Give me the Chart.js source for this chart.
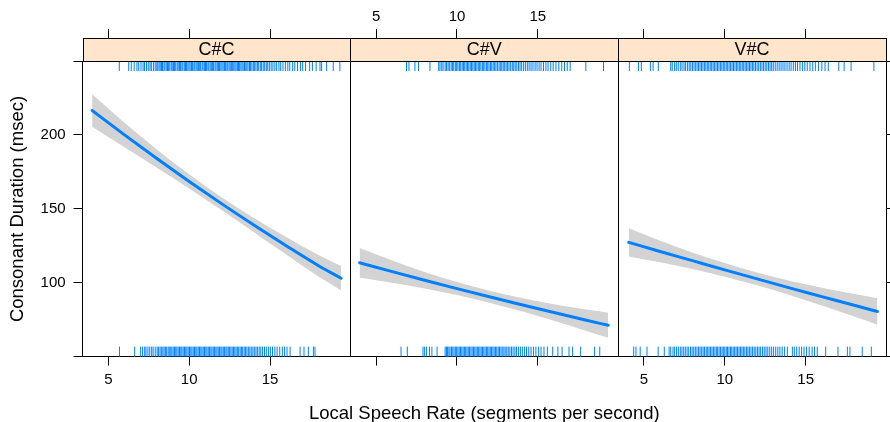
<!DOCTYPE html>
<html>
<head>
<meta charset="utf-8">
<script src="https://cdn.jsdelivr.net/npm/chart.js@4.4.0/dist/chart.umd.min.js"></script>
<style>
  html, body { margin: 0; padding: 0; background: #fff; }
  #wrap { position: relative; width: 890px; height: 422px; overflow: hidden;
          font-family: "Liberation Sans", Arial, Helvetica, sans-serif; color: #000; }
  #wrap canvas { position: absolute; left: 0; top: 0; }
  .strip { position: absolute; text-align: center; font-size: 18px; z-index: 5; white-space: nowrap; }
  #xtitle { position: absolute; text-align: center; font-size: 18.5px; line-height: 19px; white-space: nowrap; z-index: 5; }
  #ytitle { position: absolute; text-align: center; font-size: 18.5px; line-height: 20px; white-space: nowrap;
            width: 300px; height: 20px; transform: rotate(-90deg); z-index: 5; }
</style>
</head>
<body>
<div id="wrap">
  <canvas id="c0" width="890" height="422"></canvas>
  <canvas id="c1" width="890" height="422"></canvas>
  <canvas id="c2" width="890" height="422"></canvas>
  <div class="strip" id="s0"></div>
  <div class="strip" id="s1"></div>
  <div class="strip" id="s2"></div>
  <div id="ytitle"></div>
  <div id="xtitle"></div>
</div>
<script>
// ---------------- data ----------------
const PANELS = ['C#C', 'C#V', 'V#C'];
const X_TITLE = 'Local Speech Rate (segments per second)';
const Y_TITLE = 'Consonant Duration (msec)';
const X_TICKS = [5, 10, 15];
const Y_TICKS = [50, 100, 150, 200, 250];
const Y_TICK_LABELS = ['', '100', '150', '200', ''];

// C#C
const CC_X   = [4.0, 6, 8, 10, 12, 14, 16, 18, 19.4];
const CC_FIT = [216.5, 200, 184, 168.5, 153.5, 139, 125, 111.5, 103];
const CC_LO  = [205.5, 191.7, 177.8, 163.7, 149.2, 134.2, 119.1, 104.2, 94.7];
const CC_HI  = [227.5, 208.3, 190.2, 173.3, 157.8, 143.8, 130.9, 118.8, 111.3];
// C#V
const CV_X   = [3.98, 6, 8, 10, 12, 14, 16, 18, 19.35];
const CV_FIT = [113.5, 107.5, 101.7, 96, 90.5, 85.1, 79.8, 74.6, 71.2];
const CV_LO  = [103.5, 99.9, 96.1, 91.6, 86.5, 80.6, 74.2, 67.4, 62.7];
const CV_HI  = [123.5, 115.1, 107.3, 100.4, 94.5, 89.6, 85.4, 81.8, 79.7];
// V#C
const VC_X   = [4.06, 6, 8, 10, 12, 14, 16, 18, 19.44];
const VC_FIT = [127.3, 121.1, 114.9, 108.7, 102.6, 96.5, 90.6, 84.7, 80.5];
const VC_LO  = [117.8, 113.8, 109.3, 104.1, 98.3, 91.7, 84.6, 77.1, 71.5];
const VC_HI  = [136.8, 128.4, 120.5, 113.3, 106.9, 101.3, 96.6, 92.3, 89.5];

// rugs (speech-rate observations)
const CC_RUG_TOP = [5.68, 6.26, 6.42, 6.6, 6.77, 6.88, 7.02, 7.15, 7.24, 7.36, 7.47, 7.58, 7.66, 7.79, 7.9, 8.0, 8.06, 8.14, 8.21, 8.29, 8.35, 8.44, 8.5, 8.58, 8.66, 8.73, 8.8, 8.89, 8.95, 9.03, 9.1, 9.17, 9.26, 9.32, 9.4, 9.47, 9.55, 9.61, 9.7, 9.77, 9.84, 9.92, 9.99, 10.06, 10.14, 10.2, 10.29, 10.35, 10.43, 10.5, 10.57, 10.65, 10.71, 10.8, 10.86, 10.94, 11.01, 11.08, 11.16, 11.22, 11.3, 11.37, 11.45, 11.51, 11.6, 11.66, 11.74, 11.81, 11.88, 11.96, 12.03, 12.1, 12.18, 12.24, 12.33, 12.39, 12.47, 12.54, 12.61, 12.69, 12.76, 12.83, 12.9, 12.98, 13.05, 13.12, 13.2, 13.27, 13.34, 13.42, 13.5, 13.57, 13.64, 13.73, 13.8, 13.88, 13.97, 14.05, 14.13, 14.22, 14.3, 14.4, 14.48, 14.58, 14.67, 14.77, 14.86, 14.96, 15.07, 15.18, 15.3, 15.41, 15.55, 15.66, 15.8, 15.95, 16.1, 16.22, 16.4, 16.53, 16.7, 16.88, 17.02, 17.2, 17.45, 17.62, 17.85, 18.09, 18.19, 18.5, 18.91, 19.32];
const CC_RUG_BOT = [5.69, 6.63, 7.0, 7.12, 7.25, 7.33, 7.45, 7.56, 7.68, 7.77, 7.9, 8.02, 8.1, 8.2, 8.28, 8.37, 8.45, 8.53, 8.61, 8.7, 8.77, 8.86, 8.93, 9.01, 9.09, 9.17, 9.24, 9.32, 9.4, 9.48, 9.55, 9.63, 9.71, 9.79, 9.86, 9.94, 10.02, 10.1, 10.17, 10.25, 10.33, 10.41, 10.48, 10.56, 10.64, 10.72, 10.79, 10.87, 10.95, 11.03, 11.1, 11.18, 11.26, 11.34, 11.41, 11.49, 11.57, 11.65, 11.72, 11.8, 11.88, 11.96, 12.03, 12.11, 12.19, 12.27, 12.34, 12.42, 12.5, 12.58, 12.66, 12.74, 12.82, 12.9, 12.98, 13.06, 13.15, 13.23, 13.31, 13.4, 13.48, 13.57, 13.66, 13.75, 13.84, 13.94, 14.03, 14.13, 14.22, 14.33, 14.43, 14.54, 14.66, 14.77, 14.9, 15.02, 15.15, 15.3, 15.44, 15.6, 15.76, 15.9, 16.05, 16.24, 16.86, 17.1, 17.37, 17.68, 17.78];
const CV_RUG_TOP = [6.88, 7.03, 7.4, 7.62, 8.33, 8.87, 8.95, 9.06, 9.14, 9.27, 9.35, 9.45, 9.53, 9.64, 9.72, 9.8, 9.9, 9.98, 10.06, 10.15, 10.23, 10.32, 10.4, 10.48, 10.57, 10.65, 10.73, 10.82, 10.9, 10.98, 11.07, 11.15, 11.23, 11.32, 11.4, 11.48, 11.57, 11.65, 11.73, 11.82, 11.9, 11.98, 12.07, 12.15, 12.24, 12.33, 12.41, 12.5, 12.6, 12.68, 12.77, 12.86, 12.95, 13.04, 13.13, 13.22, 13.32, 13.42, 13.51, 13.6, 13.7, 13.8, 13.9, 14.0, 14.12, 14.23, 14.35, 14.46, 14.58, 14.7, 14.83, 14.95, 15.08, 15.2, 15.35, 15.5, 15.63, 15.8, 15.95, 16.12, 16.3, 16.48, 16.65, 16.82, 17.0, 17.97, 19.06];
const CV_RUG_BOT = [6.54, 6.93, 7.9, 8.0, 8.12, 8.3, 8.45, 8.77, 9.27, 9.35, 9.42, 9.5, 9.57, 9.66, 9.74, 9.82, 9.9, 9.98, 10.06, 10.14, 10.22, 10.3, 10.38, 10.46, 10.54, 10.62, 10.7, 10.78, 10.86, 10.94, 11.02, 11.1, 11.18, 11.26, 11.34, 11.42, 11.5, 11.58, 11.66, 11.74, 11.82, 11.9, 11.98, 12.06, 12.14, 12.22, 12.3, 12.38, 12.46, 12.55, 12.63, 12.72, 12.8, 12.9, 12.98, 13.08, 13.17, 13.27, 13.37, 13.47, 13.58, 13.68, 13.8, 13.92, 14.04, 14.17, 14.3, 14.44, 14.58, 14.73, 14.88, 15.05, 15.2, 15.38, 15.59, 15.92, 16.24, 16.5, 16.93, 17.15, 17.65, 18.51, 18.83];
const VC_RUG_TOP = [4.1, 4.66, 4.84, 5.4, 5.57, 5.89, 6.66, 6.75, 6.9, 7.0, 7.12, 7.25, 7.36, 7.48, 7.58, 7.7, 7.8, 7.9, 8.0, 8.1, 8.2, 8.29, 8.38, 8.47, 8.56, 8.65, 8.74, 8.83, 8.92, 9.01, 9.1, 9.19, 9.28, 9.37, 9.46, 9.55, 9.64, 9.73, 9.82, 9.91, 10.0, 10.09, 10.18, 10.27, 10.36, 10.45, 10.54, 10.63, 10.72, 10.81, 10.9, 10.99, 11.08, 11.17, 11.26, 11.35, 11.44, 11.53, 11.62, 11.71, 11.8, 11.9, 12.0, 12.1, 12.2, 12.3, 12.4, 12.5, 12.6, 12.7, 12.8, 12.9, 13.0, 13.12, 13.24, 13.36, 13.48, 13.6, 13.72, 13.85, 13.98, 14.1, 14.24, 14.37, 14.5, 14.65, 14.8, 14.95, 15.1, 15.27, 15.44, 15.6, 15.8, 16.0, 16.2, 16.4, 17.05, 17.38, 17.81, 19.22];
const VC_RUG_BOT = [4.37, 4.51, 4.77, 5.19, 5.88, 6.26, 6.56, 6.66, 6.8, 6.9, 7.02, 7.13, 7.25, 7.35, 7.46, 7.56, 7.67, 7.77, 7.88, 7.98, 8.08, 8.18, 8.28, 8.38, 8.47, 8.57, 8.66, 8.75, 8.85, 8.94, 9.03, 9.12, 9.21, 9.3, 9.39, 9.48, 9.56, 9.65, 9.74, 9.83, 9.91, 10.0, 10.09, 10.17, 10.26, 10.35, 10.43, 10.52, 10.61, 10.7, 10.79, 10.88, 10.97, 11.06, 11.15, 11.24, 11.34, 11.43, 11.52, 11.62, 11.72, 11.82, 11.92, 12.02, 12.12, 12.22, 12.33, 12.44, 12.55, 12.66, 12.78, 12.9, 13.02, 13.15, 13.28, 13.41, 13.55, 13.7, 13.87, 14.18, 14.3, 14.45, 14.6, 14.75, 14.9, 15.05, 15.22, 15.4, 15.55, 15.72, 16.24, 17.0, 17.58, 17.74, 18.5, 19.06];

// ---------------- layout & style ----------------
const W = 890, H = 422;
const PANEL_LEFT0 = 82.6, PANEL_W = 267.8;
const PLOT_TOP = 61, PLOT_BOTTOM = 356.6, STRIP_H = 23;
const X_MIN = 3.41, X_MAX = 19.97, Y_MIN = 50, Y_MAX = 250;
const LINE_COLOR = '#0080ff', BAND_COLOR = 'rgb(211,211,211)', RUG_COLOR = '#0080ff', STRIP_BG = '#ffe5cc';
const RUG_LEN = 10;
const FONT = '"Liberation Sans", Arial, Helvetica, sans-serif';

Chart.defaults.font.family = FONT;
Chart.defaults.color = '#000';

const panelData = [
  {x: CC_X, fit: CC_FIT, lo: CC_LO, hi: CC_HI, rugTop: CC_RUG_TOP, rugBot: CC_RUG_BOT,
   axes: {bottom: [true, true], top: [true, false], left: [true, true], right: [false, false]}},
  {x: CV_X, fit: CV_FIT, lo: CV_LO, hi: CV_HI, rugTop: CV_RUG_TOP, rugBot: CV_RUG_BOT,
   axes: {bottom: [true, false], top: [true, true], left: [false, false], right: [false, false]}},
  {x: VC_X, fit: VC_FIT, lo: VC_LO, hi: VC_HI, rugTop: VC_RUG_TOP, rugBot: VC_RUG_BOT,
   axes: {bottom: [true, true], top: [true, false], left: [false, false], right: [true, false]}}
];

const stripRugPlugin = {
  id: 'stripRug',
  beforeDatasetsDraw(chart, args, opts) {
    const {ctx, chartArea: a} = chart;
    const xs = chart.scales.x;
    ctx.save();
    ctx.strokeStyle = RUG_COLOR;
    ctx.lineWidth = 1;
    ctx.beginPath();
    for (const v of opts.top) {
      const px = xs.getPixelForValue(v);
      ctx.moveTo(px, a.top); ctx.lineTo(px, a.top + RUG_LEN);
    }
    for (const v of opts.bottom) {
      const px = xs.getPixelForValue(v);
      ctx.moveTo(px, a.bottom); ctx.lineTo(px, a.bottom - RUG_LEN);
    }
    ctx.stroke();
    ctx.restore();
  },
  afterDraw(chart) {
    const {ctx, chartArea: a} = chart;
    const l = Math.round(a.left) + 0.5, r = Math.round(a.right) + 0.5;
    const b = Math.round(a.top) + 0.5, t = Math.round(a.top - STRIP_H) + 0.5;
    ctx.save();
    ctx.fillStyle = STRIP_BG;
    ctx.fillRect(l, t, r - l, b - t);
    ctx.strokeStyle = '#000';
    ctx.lineWidth = 1;
    ctx.strokeRect(l, t, r - l, b - t);
    ctx.restore();
  }
};

// size: fixed pixel size of the axis box (labels are clipped to it)
function xAxis(position, spec, size) {
  const [showTicks, showLabels] = spec;
  return {
    type: 'linear', position, min: X_MIN, max: X_MAX,
    afterBuildTicks: s => { s.ticks = X_TICKS.map(v => ({value: v})); },
    afterFit: s => { s.height = size; },
    border: {display: true, color: '#000', width: 1},
    grid: {display: showTicks, drawOnChartArea: false, drawTicks: true,
           tickLength: position === 'top' ? 32 : 9, color: '#000', lineWidth: 1},
    ticks: {display: showLabels, padding: position === 'top' ? 3 : 5, color: '#000',
            font: {size: 15, family: FONT}, maxRotation: 0, minRotation: 0, autoSkip: false,
            callback: v => String(v)}
  };
}
function yAxis(position, spec, size) {
  const [showTicks, showLabels] = spec;
  return {
    type: 'linear', position, min: Y_MIN, max: Y_MAX,
    afterBuildTicks: s => { s.ticks = Y_TICKS.map(v => ({value: v})); },
    afterFit: s => { s.width = size; },
    border: {display: true, color: '#000', width: 1},
    grid: {display: showTicks, drawOnChartArea: false, drawTicks: true, tickLength: 9, color: '#000', lineWidth: 1},
    ticks: {display: showLabels, padding: 8, color: '#000', font: {size: 15, family: FONT},
            autoSkip: false, callback: (v, i) => Y_TICK_LABELS[i]}
  };
}

panelData.forEach((p, i) => {
  const left = PANEL_LEFT0 + i * PANEL_W;
  const leftSize = p.axes.left[1] ? left : 0;
  const pts = arr => p.x.map((x, k) => ({x, y: arr[k]}));
  new Chart(document.getElementById('c' + i), {
    type: 'line',
    data: {
      datasets: [
        {data: pts(p.lo), xAxisID: 'x', yAxisID: 'y', borderWidth: 0, pointRadius: 0, fill: false,
         cubicInterpolationMode: 'monotone', order: 2},
        {data: pts(p.hi), xAxisID: 'x', yAxisID: 'y', borderWidth: 0, pointRadius: 0, fill: '-1',
         backgroundColor: BAND_COLOR, cubicInterpolationMode: 'monotone', order: 1},
        {data: pts(p.fit), xAxisID: 'x', yAxisID: 'y', borderColor: LINE_COLOR, borderWidth: 3,
         pointRadius: 0, fill: false, borderCapStyle: 'round', cubicInterpolationMode: 'monotone', order: 0}
      ]
    },
    options: {
      responsive: false, animation: false, devicePixelRatio: 1,
      events: [],
      layout: {autoPadding: false,
               padding: {left: left - leftSize, right: W - left - PANEL_W, top: 0, bottom: 0}},
      plugins: {legend: {display: false}, tooltip: {enabled: false},
                stripRug: {top: p.rugTop, bottom: p.rugBot}},
      scales: {
        x: xAxis('bottom', p.axes.bottom, H - PLOT_BOTTOM),
        x2: xAxis('top', p.axes.top, PLOT_TOP),
        y: yAxis('left', p.axes.left, leftSize),
        y2: yAxis('right', p.axes.right, 0)
      }
    },
    plugins: [stripRugPlugin]
  });
  const s = document.getElementById('s' + i);
  s.textContent = PANELS[i];
  s.style.left = left + 'px';
  s.style.width = PANEL_W + 'px';
  s.style.top = (PLOT_TOP - STRIP_H) + 'px';
  s.style.height = STRIP_H + 'px';
  s.style.lineHeight = STRIP_H + 'px';
});

const xt = document.getElementById('xtitle');
xt.textContent = X_TITLE;
xt.style.left = PANEL_LEFT0 + 'px';
xt.style.width = (3 * PANEL_W) + 'px';
xt.style.top = '403px';

const yt = document.getElementById('ytitle');
yt.textContent = Y_TITLE;
yt.style.left = (17 - 150) + 'px';
yt.style.top = ((PLOT_TOP + PLOT_BOTTOM) / 2 - 10) + 'px';
</script>
</body>
</html>
